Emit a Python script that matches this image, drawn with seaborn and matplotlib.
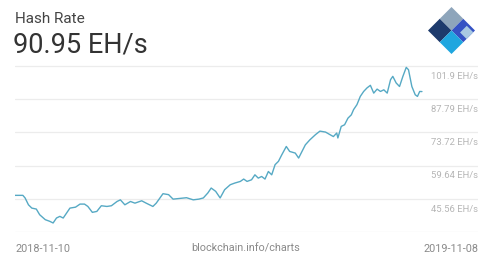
import matplotlib
matplotlib.use("Agg")
import matplotlib.pyplot as plt
from matplotlib.patches import Polygon
import seaborn as sns
import pandas as pd

# ---- data ----
days = [0, 7, 9, 12, 15, 19, 22, 27, 31, 34, 37, 40, 43, 46, 49, 54, 58, 62, 65, 69,
        73, 77, 82, 86, 91, 94, 98, 103, 107, 113, 117, 123, 126, 132, 137, 141, 147, 153,
        159, 164, 168, 172, 175, 179, 183, 187, 192, 196, 201, 204, 207, 211, 214, 217,
        220, 223, 226, 229, 232, 235, 238, 242, 245, 250, 253, 256, 259, 263, 268, 272,
        277, 281, 284, 287, 288, 291, 294, 297, 300, 302, 305, 308, 311, 314, 317, 320,
        323, 326, 329, 332, 335, 337, 340, 343, 346, 349, 351, 354, 357, 359, 361, 363]
hash_rate = [47.0, 47.0, 45.9, 43.0, 41.6, 41.2, 38.8, 36.7, 36.0, 35.3, 37.4, 38.1, 37.4,
             39.5, 41.6, 42.0, 43.3, 43.3, 42.3, 39.8, 40.2, 42.6, 42.3, 42.6, 44.4, 45.1,
             43.0, 44.4, 43.7, 44.7, 43.7, 42.3, 43.7, 47.7, 47.3, 45.4, 45.7, 46.0, 45.1,
             45.4, 45.9, 48.0, 50.1, 48.7, 45.9, 49.4, 51.5, 52.2, 52.9, 53.9, 52.9, 53.6,
             55.7, 54.3, 55.0, 53.9, 57.1, 55.7, 60.0, 61.4, 64.2, 67.7, 65.6, 64.9, 62.8,
             65.6, 68.4, 70.5, 72.7, 74.2, 73.8, 72.7, 71.9, 73.4, 71.3, 76.2, 76.9, 79.7,
             81.1, 83.3, 85.4, 88.9, 91.0, 92.5, 93.6, 90.3, 92.0, 91.0, 91.7, 90.3, 96.0,
             97.4, 94.6, 93.1, 97.4, 101.2, 100.2, 93.1, 89.6, 88.9, 91.0, 90.95]
grid_values = [31.48, 45.56, 59.64, 73.72, 87.79, 101.9]
y_labels = ["45.56 EH/s", "59.64 EH/s", "73.72 EH/s", "87.79 EH/s", "101.9 EH/s"]
label_values = [45.56, 59.64, 73.72, 87.79, 101.9]
title = "Hash Rate"
current = "90.95 EH/s"
start_label = "2018-11-10"
end_label = "2019-11-08"
source = "blockchain.info/charts"

df = pd.DataFrame({"day": days, "hash_rate": hash_rate})

sns.set_style("white")
plt.rcParams["font.family"] = ["Roboto", "DejaVu Sans"]

fig = plt.figure(figsize=(4.98, 2.67), dpi=100)
ax = fig.add_axes([15 / 498, (267 - 232) / 267, 463 / 498, 171 / 267])

for g in grid_values:
    ax.axhline(g, color="#ececec", lw=0.9, zorder=0)

sns.lineplot(data=df, x="day", y="hash_rate", ax=ax, color="#56a9c4", lw=1.0, zorder=3)

ax.set_xlim(0, 413)
ax.set_ylim(31.48, 103.9)
ax.set_xticks([])
ax.set_yticks([])
ax.set_xlabel("")
ax.set_ylabel("")
for s in ax.spines.values():
    s.set_visible(False)
ax.patch.set_alpha(0)

for v, lab in zip(label_values, y_labels):
    ax.annotate(lab, xy=(1.0, v), xycoords=ax.get_yaxis_transform(),
                xytext=(0, -7.5), textcoords="offset points",
                ha="right", va="center", fontsize=6.8, color="#b5b5b5")

fig.text(15 / 498, 1 - 19 / 267, title, fontsize=11, color="#444444", va="center", ha="left")
fig.text(13 / 498, 1 - 45 / 267, current, fontsize=19.5, color="#333333", va="center", ha="left")

fig.text(15 / 498, 1 - 249 / 267, start_label, fontsize=7.8, color="#8a8a8a", va="center", ha="left")
fig.text(246 / 498, 1 - 249 / 267, source, fontsize=7.8, color="#8a8a8a", va="center", ha="center")
fig.text(478 / 498, 1 - 249 / 267, end_label, fontsize=7.8, color="#8a8a8a", va="center", ha="right")

# logo: rotated square made of coloured pieces
cx, top, k = 451.5, 7.0, 11.75


def piece(u0, u1, v0, v1, color):
    pts = []
    for u, v in [(u0, v0), (u1, v0), (u1, v1), (u0, v1)]:
        x = cx + (u - v) * k
        y = top + (u + v) * k
        pts.append((x / 498, 1 - y / 267))
    fig.patches.append(Polygon(pts, closed=True, facecolor=color, edgecolor="none",
                               transform=fig.transFigure, figure=fig))


piece(0, 1, 0, 1, "#8ea5bb")
piece(0, 1, 1, 2, "#1d3a6c")
piece(1, 2, 0, 1, "#3552c4")
piece(1.45, 2, 0.15, 0.72, "#a9c9e2")
piece(1, 2, 1, 2, "#1fa6df")

fig.savefig("out.png", dpi=100)
